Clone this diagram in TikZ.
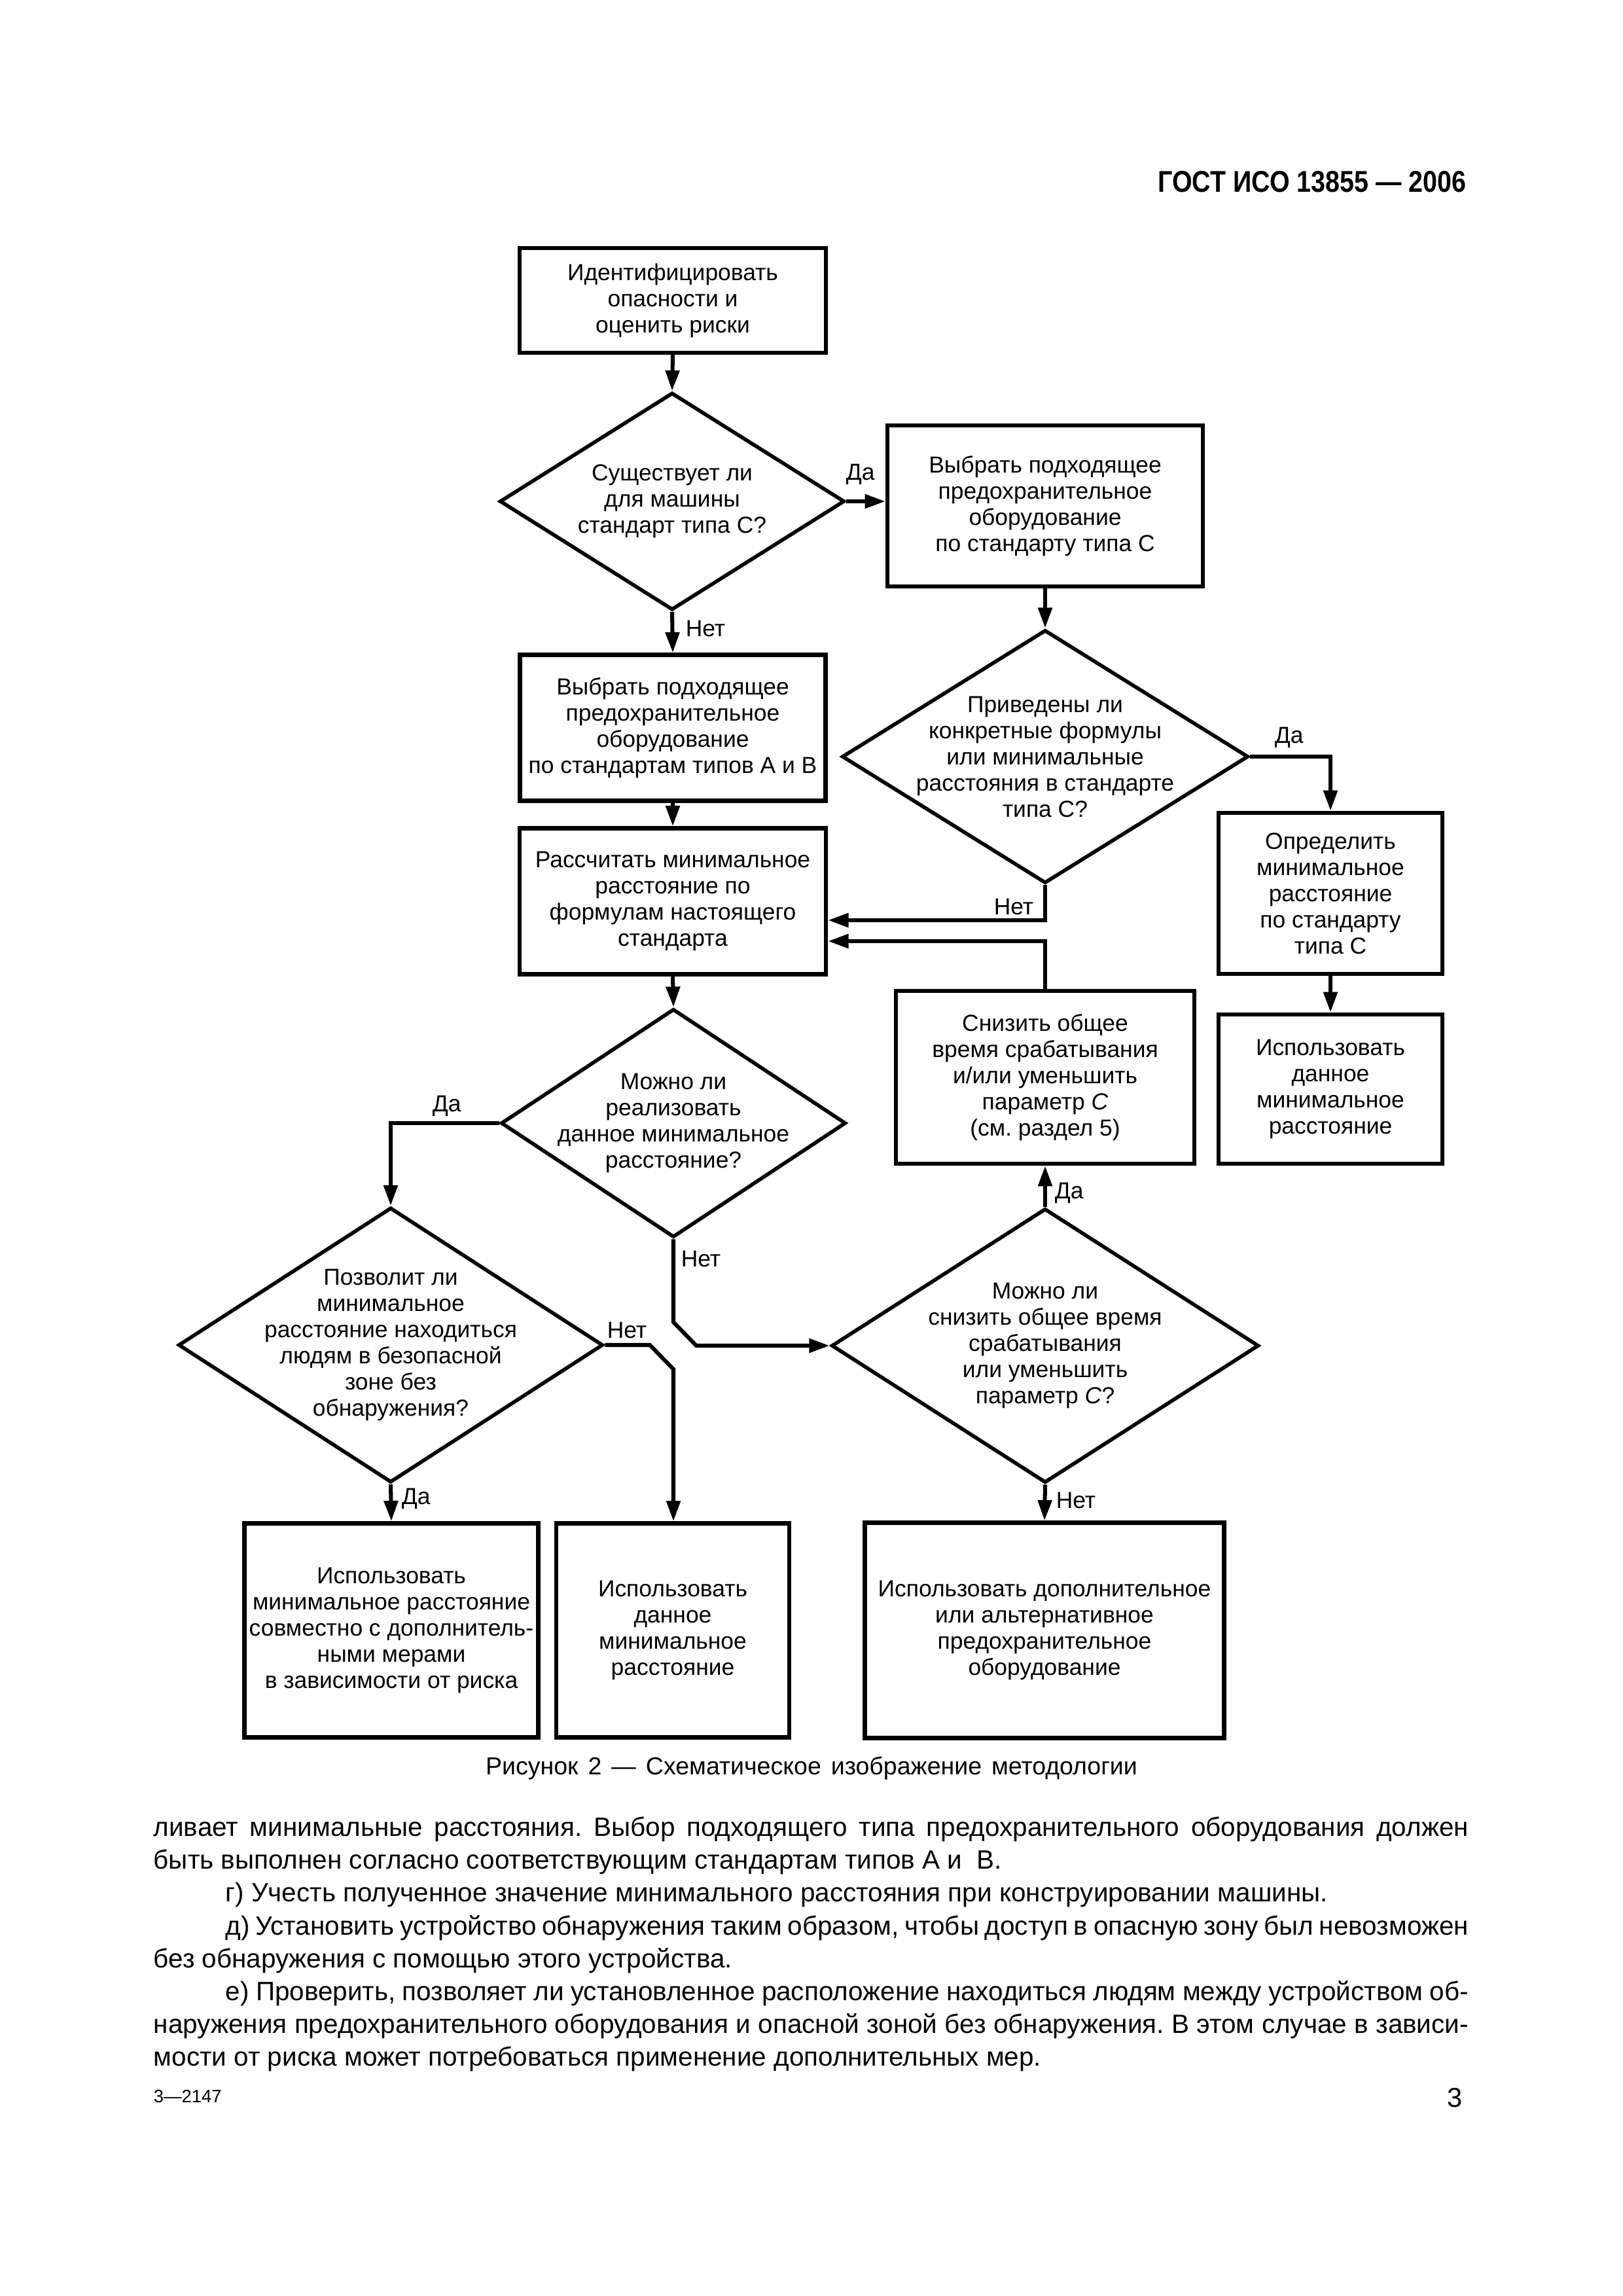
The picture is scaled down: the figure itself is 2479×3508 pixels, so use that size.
\documentclass[tikz,border=0pt]{standalone}
\usepackage{fontspec}
\setmainfont{Liberation Sans}
\usepackage{graphicx}
\usetikzlibrary{arrows.meta,shapes.geometric}
\newcommand\dfont{\fontsize{8.5}{9.6}\selectfont}
\newcommand\bfnt{\fontsize{9.7}{11.6}\selectfont\frenchspacing}
\tikzset{
  sz/.style 2 args={minimum width=#1*0.24pt, minimum height=#2*0.24pt},
  box/.style={draw, line width=1.55pt, inner sep=0pt, align=center, font=\dfont},
  dia/.style={draw, diamond, line width=1.35pt, inner sep=0pt},
  dtxt/.style={align=center, inner sep=0pt, font=\dfont},
  lbl/.style={anchor=base west, inner sep=0pt, font=\dfont},
  arr/.style={line width=1.45pt, -{Triangle[length=7.5pt,width=5pt]}},
  body/.style={anchor=base west, inner sep=0pt, font=\bfnt},
}
\begin{document}
\frenchspacing
\begin{tikzpicture}[x=0.24pt,y=-0.24pt]
\fill[white] (0,0) rectangle (2479,3508);
\useasboundingbox (0,0) rectangle (2479,3508);

% header
\node[anchor=base east, inner sep=0pt] (hdr) at (2241,294)
  {\scalebox{0.86}[1]{\fontsize{11}{13}\selectfont\bfseries ГОСТ ИСО 13855 — 2006}};

% boxes
\node[box, sz={468}{160}] (b1) at (1028,459) {Идентифицировать\\опасности и\\оценить риски};
\node[box, sz={482}{246}] (b2) at (1597,773) {Выбрать подходящее\\предохранительное\\оборудование\\по стандарту типа С};
\node[box, sz={467}{223}] (b3) at (1028,1112) {Выбрать подходящее\\предохранительное\\оборудование\\по стандартам типов А и В};
\node[box, sz={468}{223}] (b4) at (1028,1377) {Рассчитать минимальное\\расстояние по\\формулам настоящего\\стандарта};
\node[box, sz={342}{246}] (b5) at (2033,1365) {Определить\\минимальное\\расстояние\\по стандарту\\типа С};
\node[box, sz={342}{228}] (b6) at (2033,1664) {Использовать\\данное\\минимальное\\расстояние};
\node[box, sz={456}{264}] (b7) at (1597,1646) {Снизить общее\\время срабатывания\\и/или уменьшить\\параметр \textit{C}\\(см. раздел 5)};
\node[box, sz={449}{327}] (b8) at (598,2491) {Использовать\\минимальное расстояние\\совместно с дополнитель-\\ными мерами\\в зависимости от риска};
\node[box, sz={356}{327}] (b9) at (1028,2491) {Использовать\\данное\\минимальное\\расстояние};
\node[box, sz={549}{329}] (b10) at (1596,2491) {Использовать дополнительное\\или альтернативное\\предохранительное\\оборудование};

% diamonds
\node[dia, sz={527}{332}] (d1) at (1027,766) {};
\node[dtxt] (d1t) at (d1.center) {Существует ли\\для машины\\стандарт типа С?};
\node[dia, sz={621}{387}] (d2) at (1597,1156) {};
\node[dtxt] (d2t) at (d2.center) {Приведены ли\\конкретные формулы\\или минимальные\\расстояния в стандарте\\типа С?};
\node[dia, sz={527}{349}] (d3) at (1029,1716) {};
\node[dtxt] (d3t) at (d3.center) {Можно ли\\реализовать\\данное минимальное\\расстояние?};
\node[dia, sz={649}{420}] (d4) at (597,2055) {};
\node[dtxt] (d4t) at (d4.center) {Позволит ли\\минимальное\\расстояние находиться\\людям в безопасной\\зоне без\\обнаружения?};
\node[dia, sz={653}{419}] (d5) at (1597,2056) {};
\node[dtxt] (d5t) at (d5.center) {Можно ли\\снизить общее время\\срабатывания\\или уменьшить\\параметр \textit{C}?};

% junction coordinates
\coordinate (j1) at (1597,1406);
\coordinate (j2) at (1597,1438);
\coordinate (j3) at (1029,2020);
\coordinate (j4) at (1064,2056);
\coordinate (j5) at (993,2055);
\coordinate (j6) at (1029,2092);

% connectors
\draw[arr] (b1.south) -- (d1.north);
\draw[arr] (d1.east) -- (d1.east -| b2.west);
\draw[arr] (d1.south) -- (b3.north);
\draw[arr] (b3.south) -- (b4.north);
\draw[arr] (b2.south) -- (d2.north);
\draw[arr] (d2.east) -| (b5.north);
\draw[arr] (d2.south) -- (j1) -- (j1 -| b4.east);
\draw[arr] (b7.north) -- (j2) -- (j2 -| b4.east);
\draw[arr] (b5.south) -- (b6.north);
\draw[arr] (b4.south) -- (d3.north);
\draw[arr] (d3.west) -| (d4.north);
\draw[arr] (d3.south) -- (j3) -- (j4) -- (d5.west);
\draw[arr] (d4.east) -- (j5) -- (j6) -- (j6 |- b9.north);
\draw[arr] (d4.south) -- (b8.north);
\draw[arr] (d5.north) -- (b7.south);
\draw[arr] (d5.south) -- (b10.north);

% labels
\node[lbl] (l1) at (1292,734) {Да};
\node[lbl] (l2) at (1047,972) {Нет};
\node[lbl] (l3) at (1947,1135) {Да};
\node[lbl] (l4) at (1518,1397) {Нет};
\node[lbl] (l5) at (660,1698) {Да};
\node[lbl] (l6) at (1040,1935) {Нет};
\node[lbl] (l7) at (927,2044) {Нет};
\node[lbl] (l8) at (613,2298) {Да};
\node[lbl] (l9) at (1611,1831) {Да};
\node[lbl] (l10) at (1613,2304) {Нет};

% caption
\node[anchor=base, inner sep=0pt] (cap) at (1240,2711)
  {\fontsize{9}{11}\selectfont\hbox to 239pt{Рисунок 2 — Схематическое изображение методологии}};

% body text
\node[body] (t1) at (234,2805) {\hbox to 482.2pt{ливает минимальные расстояния. Выбор подходящего типа предохранительного оборудования должен}};
\node[body] (t2) at (234,2855) {быть выполнен согласно соответствующим стандартам типов А и\ \ В.};
\node[body] (t3) at (344,2905) {г) Учесть полученное значение минимального расстояния при конструировании машины.};
\node[body] (t4) at (344,2956) {\hbox to 455.8pt{д) Установить устройство обнаружения таким образом, чтобы доступ в опасную зону был невозможен}};
\node[body] (t5) at (234,3006) {без обнаружения с помощью этого устройства.};
\node[body] (t6) at (344,3056) {\hbox to 455.8pt{е) Проверить, позволяет ли установленное расположение находиться людям между устройством об-}};
\node[body] (t7) at (234,3106) {\hbox to 482.2pt{наружения предохранительного оборудования и опасной зоной без обнаружения. В этом случае в зависи-}};
\node[body] (t8) at (234,3156) {мости от риска может потребоваться применение дополнительных мер.};

% footer
\node[anchor=base west, inner sep=0pt, font=\fontsize{6.6}{8}\selectfont] (f1) at (234,3212) {3—2147};
\node[anchor=base east, inner sep=0pt, font=\fontsize{10}{12}\selectfont] (f2) at (2235,3219) {3};
\end{tikzpicture}
\end{document}
